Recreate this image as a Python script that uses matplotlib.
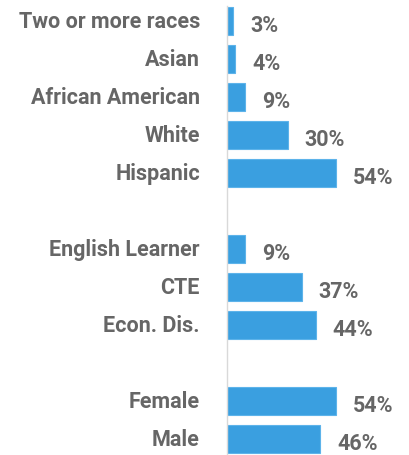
import matplotlib
matplotlib.use("Agg")
import matplotlib.pyplot as plt

categories = ["Two or more races", "Asian", "African American", "White", "Hispanic",
              "English Learner", "CTE", "Econ. Dis.",
              "Female", "Male"]
values = [3, 4, 9, 30, 54, 9, 37, 44, 54, 46]
positions = [0, 1, 2, 3, 4, 6, 7, 8, 10, 11]

family = "Roboto"

W, H = 409, 456
fig = plt.figure(figsize=(W / 100, H / 100), dpi=100)
ax = fig.add_axes([227 / W, 0, 1 - 227 / W, 1])

bar_color = "#3A9FE0"
text_color = "#666666"
ax.barh(positions, values, height=0.76, color=bar_color, edgecolor="#5DB3EA", linewidth=0.8)

ax.set_xlim(0, (W - 227) / 2.02)
ax.set_ylim(11 + 16 / 38, -22 / 38)

px = 72 / 100  # points per pixel
fs = 15.5
ax.set_yticks(positions)
ax.set_yticklabels(categories, fontsize=fs, fontweight="bold", color=text_color, family=family)
for lab in ax.get_yticklabels():
    lab.set_verticalalignment("center")
ax.tick_params(axis="y", length=0, pad=27 * px)
ax.set_xticks([])

for p, v in zip(positions, values):
    ax.annotate(f"{v}%", (v, p), xytext=(17 * px, -4 * px), textcoords="offset points",
                ha="left", va="center", fontsize=fs, fontweight="bold",
                color=text_color, family=family)

for s in ["top", "right", "bottom"]:
    ax.spines[s].set_visible(False)
ax.spines["left"].set_color("#D9D9D9")
ax.spines["left"].set_linewidth(1.0)
ax.spines["left"].set_bounds(-0.4, 11 + 16 / 38)

fig.savefig("out.png", dpi=100)
